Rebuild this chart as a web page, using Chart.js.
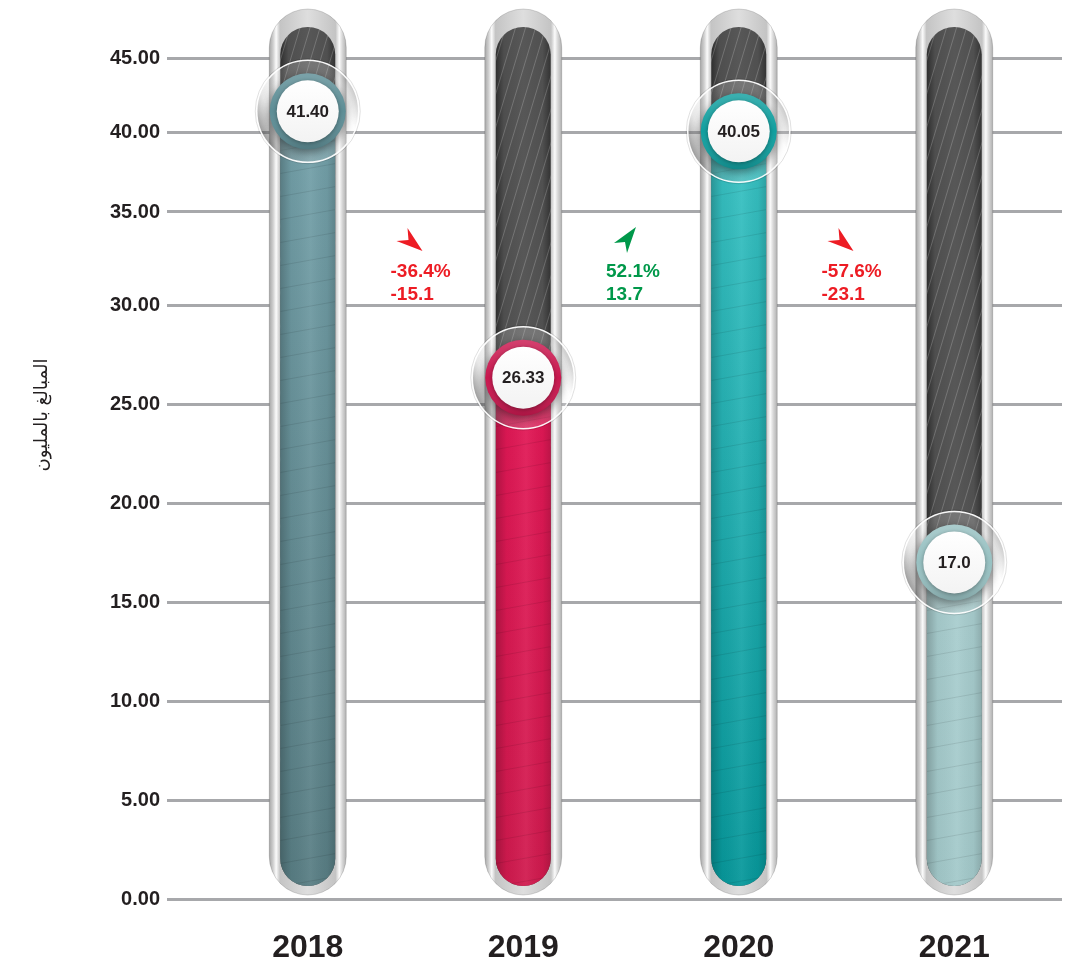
<!DOCTYPE html>
<html lang="ar">
<head>
<meta charset="utf-8">
<script src="https://cdn.jsdelivr.net/npm/chart.js@4.4.1/dist/chart.umd.min.js"></script>
<style>
  html, body { margin: 0; padding: 0; background: #fff; }
</style>
</head>
<body>
<canvas id="tubeChart" width="1079" height="968"></canvas>
<script>
const years = ['2018', '2019', '2020', '2021'];
const amounts = [41.40, 26.33, 40.05, 17.0];
const amountLabels = ['41.40', '26.33', '40.05', '17.0'];
const yTicks = [0, 5, 10, 15, 20, 25, 30, 35, 40, 45];
const changePct = ['-36.4%', '52.1%', '-57.6%'];
const changeAbs = ['-15.1', '13.7', '-23.1'];
const yTitle = 'المبالغ بالمليون';

const fillTop = ['#76a4ad', '#ee165b', '#3ec6c7', '#b2d5d6'];
const fillBottom = ['#587d83', '#d01a4e', '#06979a', '#a3c9ca'];
const ringColors = ['#5e8e96', '#c9184f', '#129f9f', '#98c1c2'];

const FONT = '"Liberation Sans", Arial, sans-serif';

// the source infographic squeezes the top of the axis, so the value axis is warped
const warpVals = [0, 30, 35, 40, 45];
const warpPos = [0, 0.7063, 0.8169, 0.9120, 1];
function warp(v) {
  let i = 1;
  while (i < warpVals.length - 1 && v > warpVals[i]) i++;
  const t = (v - warpVals[i - 1]) / (warpVals[i] - warpVals[i - 1]);
  return warpPos[i - 1] + t * (warpPos[i] - warpPos[i - 1]);
}
function unwarp(d) {
  let i = 1;
  while (i < warpPos.length - 1 && d > warpPos[i]) i++;
  const t = (d - warpPos[i - 1]) / (warpPos[i] - warpPos[i - 1]);
  return warpVals[i - 1] + t * (warpVals[i] - warpVals[i - 1]);
}

class WarpedScale extends Chart.LinearScale {
  getPixelForValue(value) {
    if (value === null || isNaN(value)) return NaN;
    return this.getPixelForDecimal(warp(value));
  }
  getValueForPixel(pixel) {
    return unwarp(this.getDecimalForPixel(pixel));
  }
}
WarpedScale.id = 'warped';
WarpedScale.defaults = Chart.LinearScale.defaults;
Chart.register(WarpedScale);

function capsule(ctx, x, y, w, h) {
  const r = w / 2;
  ctx.moveTo(x, y + r);
  ctx.arc(x + r, y + r, r, Math.PI, 0);
  ctx.lineTo(x + w, y + h - r);
  ctx.arc(x + r, y + h - r, r, 0, Math.PI);
  ctx.closePath();
}

function tubeGeom(chart, bar) {
  const a = chart.chartArea;
  return {
    x: bar.x,
    ow: bar.width + 22, oTop: a.top - 49, oBot: a.bottom - 4,
    tw: bar.width, tTop: a.top - 31, tBot: a.bottom - 13
  };
}

function drawArrow(ctx, cx, cy, pts, color) {
  ctx.save();
  ctx.translate(cx, cy);
  ctx.beginPath();
  pts.forEach((p, k) => k ? ctx.lineTo(p[0], p[1]) : ctx.moveTo(p[0], p[1]));
  ctx.closePath();
  ctx.fillStyle = color;
  ctx.fill();
  ctx.restore();
}
const arrowDown = [[13, 11], [-13, 1], [-1, 0], [-2, -12]];
const arrowUp = [[11, -13], [-11, 3], [0, 2], [2, 13]];

const tubePlugin = {
  id: 'tubes',
  beforeDatasetsDraw(chart) {
    const ctx = chart.ctx;
    chart.getDatasetMeta(0).data.forEach(bar => {
      const g = tubeGeom(chart, bar);
      ctx.save();
      // silver outer tube
      ctx.beginPath();
      capsule(ctx, g.x - g.ow / 2, g.oTop, g.ow, g.oBot - g.oTop);
      const og = ctx.createLinearGradient(g.x - g.ow / 2, 0, g.x + g.ow / 2, 0);
      og.addColorStop(0, '#a6a6a6');
      og.addColorStop(0.05, '#cfcfcf');
      og.addColorStop(0.09, '#fbfbfb');
      og.addColorStop(0.14, '#c4c4c4');
      og.addColorStop(0.5, '#dedede');
      og.addColorStop(0.86, '#c4c4c4');
      og.addColorStop(0.91, '#fbfbfb');
      og.addColorStop(0.95, '#d6d6d6');
      og.addColorStop(1, '#b0b0b0');
      ctx.fillStyle = og;
      ctx.fill();
      ctx.lineWidth = 1;
      ctx.strokeStyle = 'rgba(0,0,0,0.15)';
      ctx.stroke();
      // dark track
      ctx.beginPath();
      capsule(ctx, g.x - g.tw / 2, g.tTop, g.tw, g.tBot - g.tTop);
      const tg = ctx.createLinearGradient(g.x - g.tw / 2, 0, g.x + g.tw / 2, 0);
      tg.addColorStop(0, '#2e2e2e');
      tg.addColorStop(0.15, '#4e4e4e');
      tg.addColorStop(0.5, '#575757');
      tg.addColorStop(0.85, '#505050');
      tg.addColorStop(1, '#333');
      ctx.fillStyle = tg;
      ctx.fill();
      ctx.clip();
      ctx.strokeStyle = 'rgba(255,255,255,0.2)';
      ctx.lineWidth = 1;
      const h = g.tBot - g.tTop;
      for (let sx = g.x - g.tw / 2 - h * 0.3; sx < g.x + g.tw / 2; sx += 10) {
        ctx.beginPath();
        ctx.moveTo(sx, g.tBot);
        ctx.lineTo(sx + h * 0.3, g.tTop);
        ctx.stroke();
      }
      ctx.restore();
    });
  },
  beforeDatasetDraw(chart) {
    const ctx = chart.ctx;
    ctx.save();
    ctx.beginPath();
    chart.getDatasetMeta(0).data.forEach(bar => {
      const g = tubeGeom(chart, bar);
      capsule(ctx, g.x - g.tw / 2, g.tTop, g.tw, g.tBot - g.tTop);
    });
    ctx.clip();
  },
  afterDatasetDraw(chart) {
    const ctx = chart.ctx;
    chart.getDatasetMeta(0).data.forEach(bar => {
      const g = tubeGeom(chart, bar);
      const left = g.x - g.tw / 2;
      const sh = ctx.createLinearGradient(left, 0, left + g.tw, 0);
      sh.addColorStop(0, 'rgba(0,0,0,0.22)');
      sh.addColorStop(0.2, 'rgba(0,0,0,0.04)');
      sh.addColorStop(0.55, 'rgba(255,255,255,0.06)');
      sh.addColorStop(0.85, 'rgba(0,0,0,0.04)');
      sh.addColorStop(1, 'rgba(0,0,0,0.16)');
      ctx.fillStyle = sh;
      ctx.fillRect(left, bar.y, g.tw, bar.base - bar.y);
      ctx.save();
      ctx.beginPath();
      ctx.rect(left, bar.y, g.tw, bar.base - bar.y);
      ctx.clip();
      ctx.strokeStyle = 'rgba(0,0,0,0.09)';
      ctx.lineWidth = 1;
      for (let sy = bar.base + 12; sy > bar.y; sy -= 23) {
        ctx.beginPath();
        ctx.moveTo(left, sy);
        ctx.lineTo(left + g.tw, sy - g.tw * 0.18);
        ctx.stroke();
      }
      ctx.restore();
    });
    ctx.restore();
  },
  afterDatasetsDraw(chart) {
    const ctx = chart.ctx;
    const a = chart.chartArea;
    const bars = chart.getDatasetMeta(0).data;
    bars.forEach((bar, i) => {
      const cx = bar.x, cy = bar.y;
      ctx.save();
      // glass disc
      ctx.beginPath();
      ctx.arc(cx, cy, 51, 0, Math.PI * 2);
      const gg = ctx.createLinearGradient(cx - 51, cy + 25, cx + 51, cy - 25);
      gg.addColorStop(0, 'rgba(20,20,20,0.6)');
      gg.addColorStop(0.2, 'rgba(160,160,160,0.25)');
      gg.addColorStop(0.45, 'rgba(255,255,255,0.15)');
      gg.addColorStop(0.8, 'rgba(255,255,255,0.2)');
      gg.addColorStop(1, 'rgba(60,60,60,0.45)');
      ctx.fillStyle = gg;
      ctx.fill();
      ctx.lineWidth = 1.5;
      ctx.strokeStyle = 'rgba(255,255,255,0.95)';
      ctx.stroke();
      ctx.beginPath();
      ctx.arc(cx, cy, 52.5, 0, Math.PI * 2);
      ctx.lineWidth = 1;
      ctx.strokeStyle = 'rgba(0,0,0,0.12)';
      ctx.stroke();
      // coloured ring
      ctx.shadowColor = 'rgba(0,0,0,0.45)';
      ctx.shadowBlur = 10;
      ctx.shadowOffsetY = 3;
      ctx.beginPath();
      ctx.arc(cx, cy, 38, 0, Math.PI * 2);
      ctx.fillStyle = ringColors[i];
      ctx.fill();
      ctx.shadowColor = 'transparent';
      const rg = ctx.createLinearGradient(0, cy - 38, 0, cy + 38);
      rg.addColorStop(0, 'rgba(255,255,255,0.18)');
      rg.addColorStop(0.5, 'rgba(255,255,255,0)');
      rg.addColorStop(1, 'rgba(0,0,0,0.15)');
      ctx.fillStyle = rg;
      ctx.fill();
      // white face
      ctx.beginPath();
      ctx.arc(cx, cy, 31, 0, Math.PI * 2);
      const wg = ctx.createLinearGradient(0, cy - 31, 0, cy + 31);
      wg.addColorStop(0, '#ffffff');
      wg.addColorStop(1, '#f3f3f3');
      ctx.fillStyle = wg;
      ctx.shadowColor = 'rgba(0,0,0,0.35)';
      ctx.shadowBlur = 4;
      ctx.shadowOffsetY = 1;
      ctx.fill();
      ctx.shadowColor = 'transparent';
      ctx.fillStyle = '#231f20';
      ctx.font = 'bold 17px ' + FONT;
      ctx.textAlign = 'center';
      ctx.textBaseline = 'middle';
      ctx.fillText(amountLabels[i], cx, cy + 1);
      ctx.restore();
    });

    // change annotations between years
    ctx.save();
    ctx.textAlign = 'left';
    ctx.textBaseline = 'middle';
    ctx.font = 'bold 19px ' + FONT;
    for (let i = 0; i < bars.length - 1; i++) {
      const lx = (bars[i].x + bars[i + 1].x) / 2 - 25;
      const up = !changePct[i].startsWith('-');
      const color = up ? '#00984a' : '#ed1c24';
      drawArrow(ctx, lx + 19, a.top + 182, up ? arrowUp : arrowDown, color);
      ctx.fillStyle = color;
      ctx.fillText(changePct[i], lx, a.top + 214);
      ctx.fillText(changeAbs[i], lx, a.top + 237);
    }
    ctx.restore();

    // axis title (Arabic)
    ctx.save();
    ctx.translate(42, 415);
    ctx.rotate(-Math.PI / 2);
    ctx.font = '18px "DejaVu Sans", sans-serif';
    ctx.fillStyle = '#231f20';
    ctx.textAlign = 'center';
    ctx.textBaseline = 'middle';
    ctx.fillText(yTitle, 0, 0);
    ctx.restore();
  }
};

const ctx = document.getElementById('tubeChart').getContext('2d');

const tubeChart = new Chart(ctx, {
  type: 'bar',
  data: {
    labels: years,
    datasets: [{
      label: yTitle,
      data: amounts,
      barThickness: 55,
      borderWidth: 0,
      backgroundColor: (c) => {
        const area = c.chart.chartArea;
        const i = c.dataIndex;
        if (!area || i === undefined) return fillTop[i || 0];
        const g = c.chart.ctx.createLinearGradient(0, area.top, 0, area.bottom);
        g.addColorStop(0, fillTop[i]);
        g.addColorStop(1, fillBottom[i]);
        return g;
      }
    }]
  },
  options: {
    responsive: false,
    animation: false,
    layout: { padding: { top: 58, right: 17, bottom: 0, left: 0 } },
    scales: {
      x: {
        grid: { display: false, drawTicks: false },
        border: { display: false },
        ticks: {
          color: '#231f20',
          padding: 30,
          font: { family: FONT, size: 32, weight: 'bold' }
        },
        afterFit: s => { s.height = 69; }
      },
      y: {
        type: 'warped',
        min: 0,
        max: 45,
        afterBuildTicks: s => { s.ticks = yTicks.map(v => ({ value: v })); },
        grid: { color: '#a7a8ab', lineWidth: 3, tickLength: 33 },
        border: { display: false },
        ticks: {
          color: '#231f20',
          padding: 7,
          font: { family: FONT, size: 20, weight: 'bold' },
          callback: v => Number(v).toFixed(2)
        },
        afterFit: s => { s.width = 200; }
      }
    },
    plugins: {
      legend: { display: false },
      tooltip: { enabled: false }
    }
  },
  plugins: [tubePlugin]
});
</script>
</body>
</html>
